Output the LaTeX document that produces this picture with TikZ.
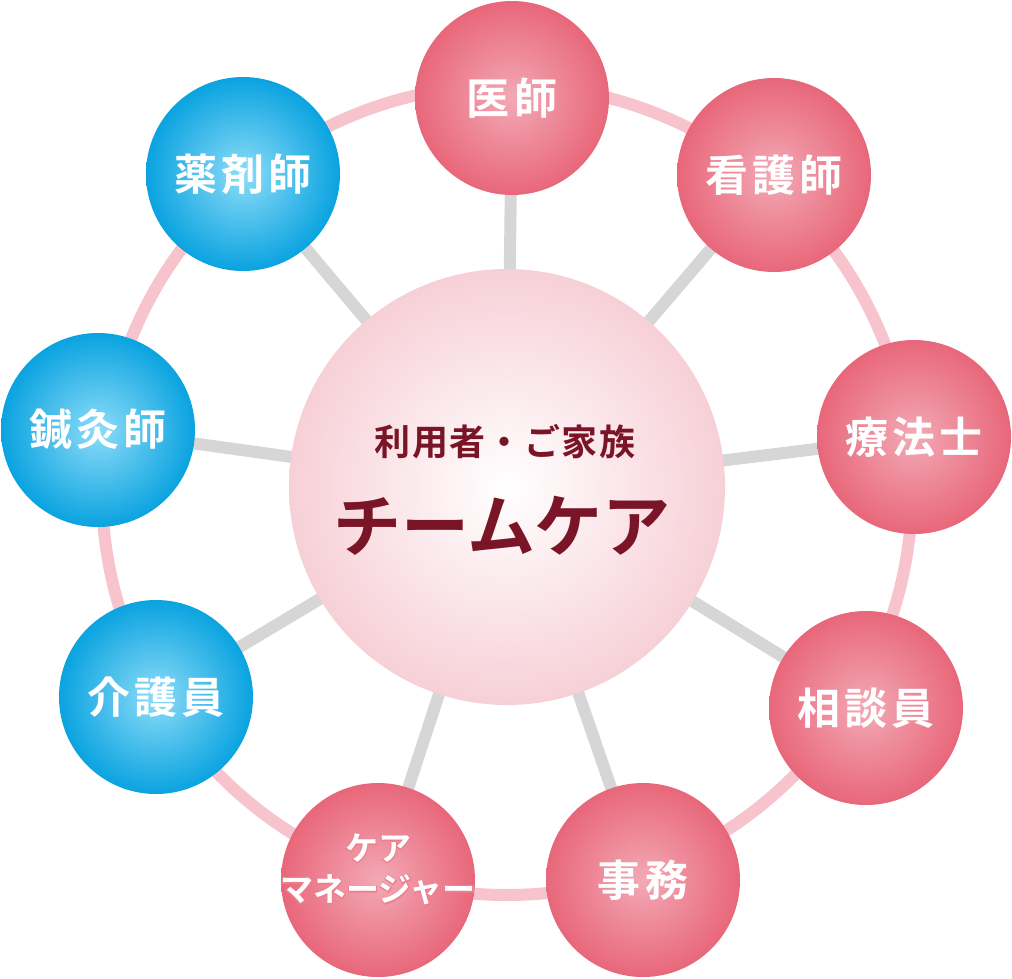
\documentclass[tikz,border=0pt]{standalone}
\usepackage{fontspec}
\newfontfamily\jp[LetterSpace=10]{Noto Sans CJK JP Bold}
\newfontfamily\jpc{Noto Sans CJK JP Bold}
\newfontfamily\jpw[LetterSpace=4]{Noto Sans CJK JP Bold}
\newfontfamily\jpfat[FakeBold=6]{Noto Sans CJK JP Bold}
\definecolor{ringc}{HTML}{F7C3CC}
\definecolor{spoke}{HTML}{D6D6D6}
\definecolor{pinkin}{HTML}{F3A9B5}
\definecolor{pinkout}{HTML}{E8677A}
\definecolor{bluein}{HTML}{8DDCF8}
\definecolor{blueout}{HTML}{0AA3E0}
\definecolor{cin}{HTML}{FFFFFF}
\definecolor{cout}{HTML}{F7D0D7}
\definecolor{dred}{HTML}{7A1528}
\definecolor{glow}{HTML}{EC8090}
\tikzset{
 lbl/.style={text=white,font=\jp\fontsize{43}{46}\selectfont},
 pnode/.style={circle,minimum size=194pt,inner sep=0,inner color=pinkin,outer color=pinkout,lbl},
 bnode/.style={circle,minimum size=194pt,inner sep=0,inner color=bluein,outer color=blueout,lbl},
 spk/.style={spoke,line width=12pt},
 cmtext/.style={text=white,font=\jpc\fontsize{33}{35}\selectfont},
 cmglow/.style={text=glow,font=\jpfat\fontsize{33}{35}\selectfont},
}
\begin{document}
\begin{tikzpicture}[x=1pt,y=-1pt]
\useasboundingbox (0,0) rectangle (1012,978);
\draw[ringc,line width=12pt] (507,490) circle (405);
\coordinate (c) at (507,487);
\foreach \p in {(512,98),(774,175),(914,437),(866,708),(643,880),(378,880),(156,697),(98,430),(243,174)}
  \draw[spk] (c) -- \p;
\node[circle,minimum size=436pt,inner sep=0,inner color=cin,outer color=cout] (center) at (c) {};
\node[text=dred,font=\jpw\fontsize{36}{38}\selectfont] (t1) at (505,442) {利用者・ご家族};
\node[text=dred,font=\jpc\fontsize{68}{72}\selectfont] (t2) at (502,526) {チームケア};
\node[pnode] (a) at (512,98) {医師};
\node[pnode] (b) at (774,175) {看護師};
\node[pnode] (d) at (914,437) {療法士};
\node[pnode] (e) at (866,708) {相談員};
\node[pnode] (f) at (643,880) {事務};
\node[pnode] (g) at (378,880) {};
\node[bnode] (h) at (156,697) {介護員};
\node[bnode] (i) at (98,430) {鍼灸師};
\node[bnode] (j) at (243,174) {薬剤師};
\node[cmglow] (g1b) at (378,848) {ケア};
\node[cmglow] (g2b) at (378,890) {マネージャー};
\node[cmtext] (g1) at (378,848) {ケア};
\node[cmtext] (g2) at (378,890) {マネージャー};
\end{tikzpicture}
\end{document}
